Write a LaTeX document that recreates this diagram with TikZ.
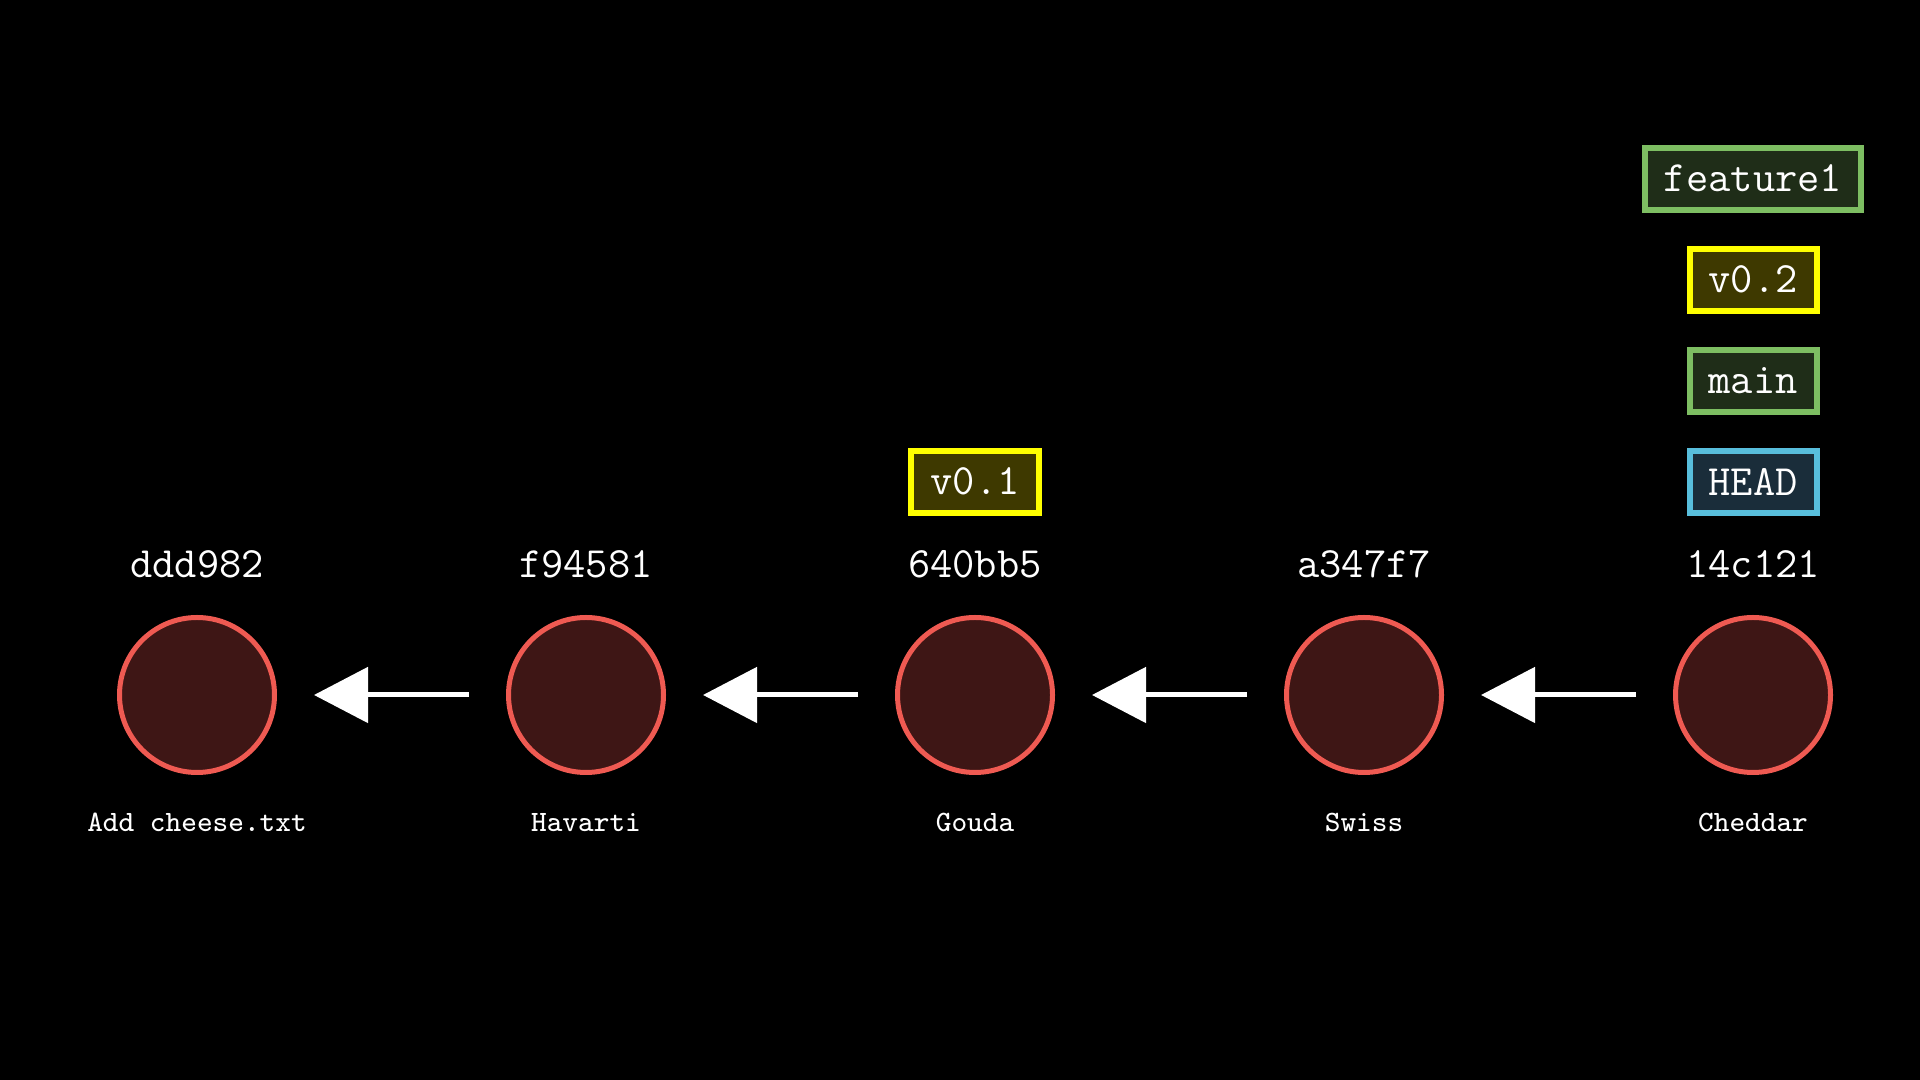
\documentclass[tikz,border=0pt]{standalone}
\usepackage{fontspec}
\usepackage{xcolor}
\definecolor{commitline}{RGB}{239, 90, 82}
\definecolor{commitfill}{RGB}{62, 22, 21}
\definecolor{branchline}{RGB}{125, 190, 98}
\definecolor{branchfill}{RGB}{31, 45, 24}
\definecolor{tagline}{RGB}{255, 255, 0}
\definecolor{tagfill}{RGB}{62, 57, 0}
\definecolor{headline}{RGB}{88, 190, 220}
\definecolor{headfill}{RGB}{26, 45, 58}
\usetikzlibrary{arrows.meta, positioning}

\begin{document}
\begin{tikzpicture}[>=Stealth,
  commit/.style={circle, draw=commitline, fill=commitfill, line width=0.05cm,
    minimum size=1.55cm, inner sep=0pt},
  hash/.style={text=white, font=\ttfamily\fontsize{12.3}{14}\selectfont,
    inner sep=0pt, text height=0.27cm, text depth=0pt},
  msg/.style={text=white, font=\ttfamily\fontsize{8.4}{10}\selectfont,
    inner sep=0pt, text height=0.18cm, text depth=0.05cm},
  ref/.style={line width=0.06cm, text=white, font=\ttfamily\fontsize{12.3}{14}\selectfont,
    minimum height=0.62cm, inner xsep=0.19cm, inner ysep=0pt},
  branch/.style={ref, draw=branchline, fill=branchfill},
  tag/.style={ref, draw=tagline, fill=tagfill},
  headref/.style={ref, draw=headline, fill=headfill},
  parent/.style={white, line width=0.05cm, shorten <=0.37cm, shorten >=0.37cm,
    -{Triangle[length=0.54cm, width=0.55cm]}},
  node distance=0.33cm]
  % background
  \fill[black] (0,0) rectangle (19.2,10.8);
  \useasboundingbox (0,0) rectangle (19.2,10.8);
  % commits
  \foreach \i/\x/\h/\m in {1/1.97/ddd982/Add cheese.txt, 2/5.86/f94581/Havarti,
      3/9.75/640bb5/Gouda, 4/13.64/a347f7/Swiss, 5/17.53/14c121/Cheddar} {
    \node[commit] (c\i) at (\x,3.85) {};
    \node[hash, above=0.37cm of c\i] (h\i) {\h};
    \node[msg, below=0.38cm of c\i] (m\i) {\m};
  }
  % parents
  \foreach \i [evaluate=\i as \j using int(\i+1)] in {1,...,4}
    \draw[parent] (c\j) -- (c\i);
  % refs
  \node[tag, above=0.34cm of h3] (v01) {v0.1};
  \node[headref, above=0.34cm of h5] (head) {HEAD};
  \node[branch, above=of head] (main) {main};
  \node[tag, above=of main] (v02) {v0.2};
  \node[branch, above=of v02] (feature1) {feature1};
\end{tikzpicture}
\end{document}
